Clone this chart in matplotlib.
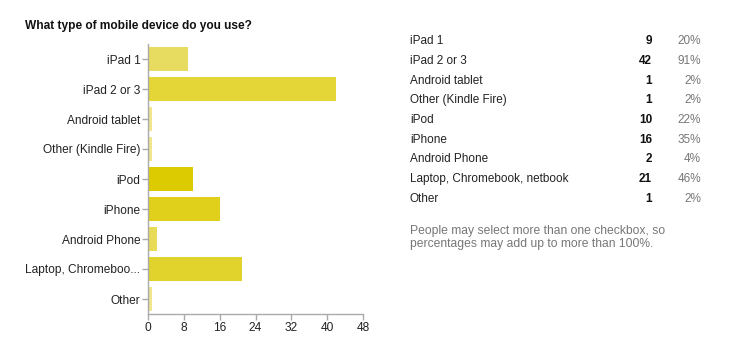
import matplotlib.pyplot as plt

plt.rcParams['font.family'] = ['Liberation Sans', 'DejaVu Sans']

# Data
categories = ["iPad 1", "iPad 2 or 3", "Android tablet", "Other (Kindle Fire)", "iPod",
              "iPhone", "Android Phone", "Laptop, Chromebook, netbook", "Other"]
axis_labels = ["iPad 1", "iPad 2 or 3", "Android tablet", "Other (Kindle Fire)", "iPod",
               "iPhone", "Android Phone", "Laptop, Chromeboo...", "Other"]
counts = [9, 42, 1, 1, 10, 16, 2, 21, 1]
percents = ["20%", "91%", "2%", "2%", "22%", "35%", "4%", "46%", "2%"]
bar_colors = ["#e8dc60", "#e3d636", "#efe68e", "#efe68e", "#dccb00",
              "#e0d01c", "#e7db58", "#e1d22c", "#efe68e"]
xticks = [0, 8, 16, 24, 32, 40, 48]

W, H = 749, 352
fig = plt.figure(figsize=(W / 100, H / 100), dpi=100)
fig.patch.set_facecolor('white')

def px(x, y):
    return x / W, 1 - y / H

# Bar chart axes
left, right, top, bottom = 148, 363, 44, 314
ax = fig.add_axes([left / W, 1 - bottom / H, (right - left) / W, (bottom - top) / H])
ypos = list(range(len(categories)))
ax.barh(ypos, counts, height=0.8, color=bar_colors, edgecolor='none')
ax.set_ylim(len(categories) - 0.5, -0.5)
ax.set_xlim(0, 48)
ax.set_xticks(xticks)
ax.set_yticks(ypos)
ax.set_yticklabels(axis_labels)
for s in ['top', 'right']:
    ax.spines[s].set_visible(False)
for s in ['left', 'bottom']:
    ax.spines[s].set_color('#aaaaaa')
    ax.spines[s].set_linewidth(1)
ax.tick_params(axis='both', colors='#aaaaaa', labelcolor='#222222', labelsize=8.6, length=4, width=1, pad=1.5)

# Title
fig.text(*px(25, 26), "What type of mobile device do you use?", fontsize=8.6, fontweight='bold',
         color='#111111', va='center', ha='left')

# Summary table
row0, step = 41, 19.75
for i, (name, n, p) in enumerate(zip(categories, counts, percents)):
    y = row0 + i * step
    fig.text(*px(410, y), name, fontsize=8.5, color='#222222', va='center', ha='left')
    fig.text(*px(652, y), str(n), fontsize=8.5, color='#111111', fontweight='bold', va='center', ha='right')
    fig.text(*px(701, y), p, fontsize=8.5, color='#777777', va='center', ha='right')

fig.text(*px(410, 231), "People may select more than one checkbox, so", fontsize=8.7,
         color='#777777', va='center', ha='left')
fig.text(*px(410, 244), "percentages may add up to more than 100%.", fontsize=8.7,
         color='#777777', va='center', ha='left')

fig.savefig('out.png', dpi=100)
